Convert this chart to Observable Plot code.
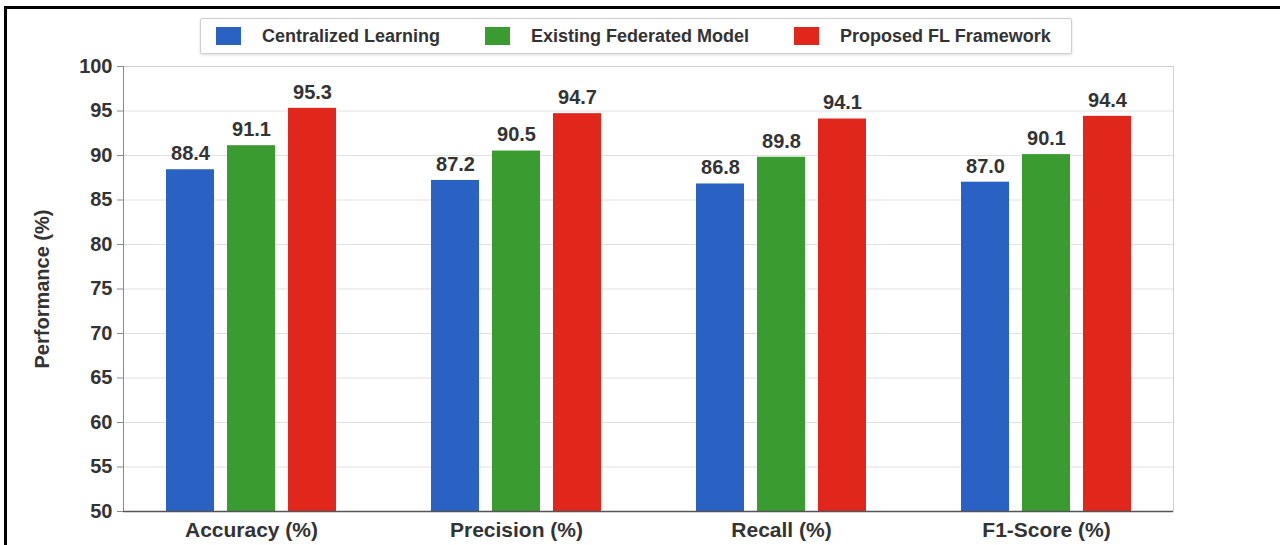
<!DOCTYPE html>
<html>
<head>
<meta charset="utf-8">
<script src="https://cdn.jsdelivr.net/npm/d3@7"></script>
<script src="https://cdn.jsdelivr.net/npm/@observablehq/plot@0.6"></script>
<style>
  html, body { margin: 0; padding: 0; background: #fff; }
  #page { position: relative; width: 1280px; height: 545px; overflow: hidden; font-family: "Liberation Sans", Arial, sans-serif; }
  #edge { position: absolute; left: 4px; top: 6px; right: -10px; bottom: -10px; border-left: 3px solid #000; border-top: 3px solid #000; pointer-events: none; }
  #legend-row { position: relative; height: 56px; }
  #legend { position: absolute; left: 200px; top: 18px; height: 36px; box-sizing: border-box; padding: 0 20px 0 15px;
            display: flex; align-items: center; gap: 45px; border: 1px solid #cfcfcf; border-radius: 2px;
            box-shadow: 0 1px 3px rgba(0,0,0,0.15); background: #fff; }
  .item { display: flex; align-items: center; gap: 21px; font-size: 18px; font-weight: bold; color: #333; white-space: nowrap; }
  .swatch { width: 25px; height: 18px; }
  #chart svg { display: block; }
</style>
</head>
<body>
<div id="page">
  <div id="legend-row"><div id="legend"></div></div>
  <div id="chart"></div>
  <div id="edge"></div>
</div>
<script>
// Evaluation metrics along the x axis
const metrics = ["Accuracy (%)", "Precision (%)", "Recall (%)", "F1-Score (%)"];
// Compared approaches
const seriesNames = ["Centralized Learning", "Existing Federated Model", "Proposed FL Framework"];
// Scores per approach, in metric order
const centralized = [88.4, 87.2, 86.8, 87.0];
const existingFederated = [91.1, 90.5, 89.8, 90.1];
const proposedFL = [95.3, 94.7, 94.1, 94.4];
// Y axis range, tick values and title
const yDomain = [50, 100];
const yTicks = [50, 55, 60, 65, 70, 75, 80, 85, 90, 95, 100];
const yTitle = "Performance (%)";

const seriesValues = [centralized, existingFederated, proposedFL];
const palette = ["#2962c3", "#3a9b30", "#e1261c"];
const groupOffsets = [-61, 0, 61];

const rows = seriesNames.flatMap((s, i) =>
  metrics.map((m, j) => ({metric: m, series: s, value: seriesValues[i][j]}))
);

// Legend
const legend = document.getElementById("legend");
seriesNames.forEach((s, i) => {
  const item = document.createElement("div");
  item.className = "item";
  const sw = document.createElement("div");
  sw.className = "swatch";
  sw.style.background = palette[i];
  const label = document.createElement("span");
  label.textContent = s;
  item.append(sw, label);
  legend.append(item);
});

const fmt = d3.format(".1f");

const chart = Plot.plot({
  width: 1280,
  height: 489,
  marginTop: 10,
  marginBottom: 34,
  marginLeft: 123,
  marginRight: 107,
  style: {fontFamily: "Liberation Sans, Arial, sans-serif", fontSize: "20px", fontWeight: "bold", color: "#333", background: "transparent"},
  x: {domain: metrics, paddingInner: 0.82, paddingOuter: 0.39, axis: null},
  y: {domain: yDomain, axis: null},
  color: {domain: seriesNames, range: palette},
  marks: [
    Plot.ruleY(yTicks, {stroke: "#e2e2e2", strokeWidth: 1}),
    Plot.frame({stroke: "#d0d0d0"}),
    ...seriesNames.map((s, i) =>
      Plot.barY(rows.filter(d => d.series === s), {
        x: "metric", y1: yDomain[0], y2: "value", fill: "series", dx: groupOffsets[i]
      })
    ),
    ...seriesNames.map((s, i) =>
      Plot.text(rows.filter(d => d.series === s), {
        x: "metric", y: "value", text: d => fmt(d.value), dx: groupOffsets[i], dy: -16,
        lineAnchor: "middle", fontSize: 20, fontWeight: "bold", fill: "#333"
      })
    ),
    Plot.frame({anchor: "left", stroke: "#8a8a8a"}),
    Plot.ruleY([yDomain[0]], {stroke: "#555", strokeWidth: 1.5}),
    Plot.axisY({ticks: yTicks, tickSize: 6, tickPadding: 5, label: null, fontSize: 20, fontWeight: "bold", fill: "#333", stroke: "#8a8a8a"}),
    Plot.axisX({tickSize: 0, tickPadding: 11, label: null, fontSize: 21, fontWeight: "bold", fill: "#333"}),
    Plot.text([yTitle], {frameAnchor: "left", textAnchor: "middle", lineAnchor: "middle", rotate: -90, dx: -81, fontSize: 20, fontWeight: "bold", fill: "#333"})
  ]
});

document.getElementById("chart").append(chart);
</script>
</body>
</html>
